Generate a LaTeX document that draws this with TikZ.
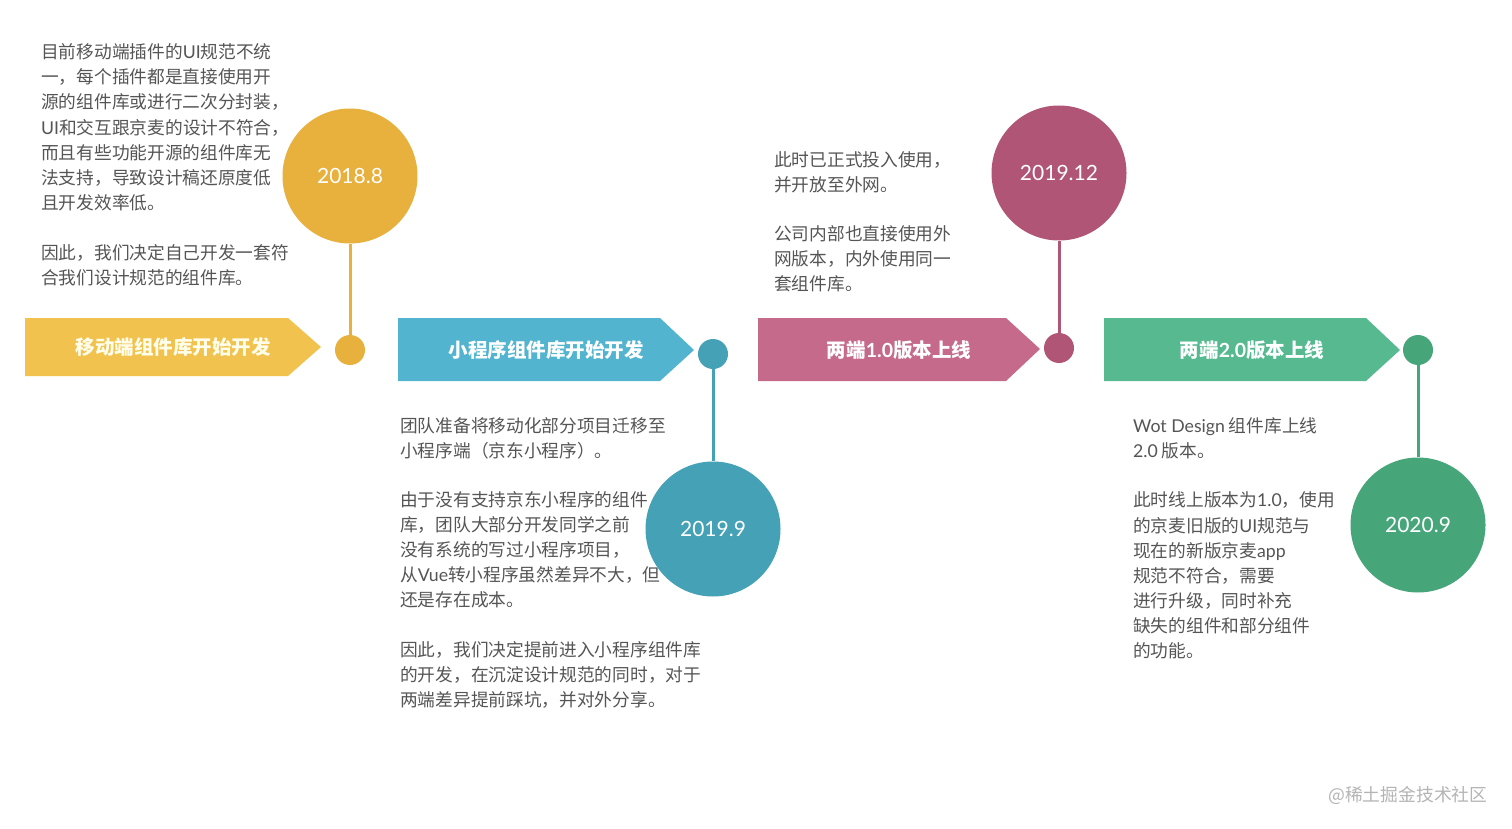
\documentclass[tikz,border=0pt]{standalone}
\usepackage{fontspec}
\setmainfont{Noto Sans CJK SC}
\newfontfamily\lato{Lato}
\definecolor{txt}{HTML}{555555}
\definecolor{yband}{HTML}{F2C24F}
\definecolor{ydk}{HTML}{E8B03C}
\definecolor{bband}{HTML}{53B4CF}
\definecolor{bdk}{HTML}{45A1B6}
\definecolor{pband}{HTML}{C56A8A}
\definecolor{pdk}{HTML}{B05576}
\definecolor{gband}{HTML}{56B990}
\definecolor{gdk}{HTML}{46A67A}
\definecolor{wm}{HTML}{B4B4B4}
\begin{document}
\begin{tikzpicture}[x=1pt,y=-1pt,
  body/.style={anchor=base west, inner sep=0, text=txt, font=\fontsize{17.7}{20}\selectfont},
  bandtext/.style={inner sep=0, text=white, font=\fontsize{19.5}{22}\selectfont\bfseries},
  big/.style={circle, minimum size=135, inner sep=0, text=white, font=\lato\fontsize{21}{24}\selectfont},
  dotnode/.style={circle, minimum size=30, inner sep=0},
  conn/.style={line width=3pt}]
\useasboundingbox[fill=white] (0,0) rectangle (1512,829);

% banners
\fill[yband] (25,318) -- (288,318) -- (321,347) -- (288,376) -- (25,376) -- cycle;
\fill[bband] (398,318) -- (660,318) -- (694,350) -- (660,381) -- (398,381) -- cycle;
\fill[pband] (758,318) -- (1006,318) -- (1040,349) -- (1006,381) -- (758,381) -- cycle;
\fill[gband] (1104,318) -- (1366,318) -- (1400,350) -- (1366,381) -- (1104,381) -- cycle;
\node[bandtext, text=white!92!yellow] (bt1) at (173,347) {移动端组件库开始开发};
\node[bandtext] (bt2) at (546,350) {小程序组件库开始开发};
\node[bandtext] (bt3) at (899,350) {两端{\lato\bfseries 1.0}版本上线};
\node[bandtext] (bt4) at (1252,350) {两端{\lato\bfseries 2.0}版本上线};

% text blocks (baseline = centre + 6.6)
\foreach \y/\t in {52/目前移动端插件的{\lato UI}规范不统,
  77/一，每个插件都是直接使用开,
  102/源的组件库或进行二次分封装，,
  128/{\lato UI}和交互跟京麦的设计不符合，,
  153/而且有些功能开源的组件库无,
  178/法支持，导致设计稿还原度低,
  203/且开发效率低。,
  253/因此，我们决定自己开发一套符,
  278/合我们设计规范的组件库。}
  \node[body] (ta\y) at (41,\y+6.6) {\t};

\foreach \y/\t in {426/团队准备将移动化部分项目迁移至,
  451/小程序端（京东小程序）。,
  500/由于没有支持京东小程序的组件,
  525/库，团队大部分开发同学之前,
  550/没有系统的写过小程序项目，,
  575/从{\lato Vue}转小程序虽然差异不大，但,
  600/还是存在成本。,
  650/因此，我们决定提前进入小程序组件库,
  675/的开发，在沉淀设计规范的同时，对于,
  700/两端差异提前踩坑，并对外分享。}
  \node[body] (tb\y) at (400,\y+6.6) {\t};

\foreach \y/\t in {160/此时已正式投入使用，,
  185/并开放至外网。,
  234/公司内部也直接使用外,
  259/网版本，内外使用同一,
  284/套组件库。}
  \node[body] (tc\y) at (774,\y+6.6) {\t};

\foreach \y/\t in {426/{\lato Wot Design} 组件库上线,
  451/{\lato 2.0} 版本。,
  500/此时线上版本为{\lato 1.0}，使用,
  526/的京麦旧版的{\lato UI}规范与,
  551/现在的新版京麦{\lato app},
  576/规范不符合，需要,
  601/进行升级，同时补充,
  626/缺失的组件和部分组件,
  651/的功能。}
  \node[body] (td\y) at (1133,\y+6.6) {\t};

% dots and circles
\node[dotnode, fill=ydk] (d1) at (350,350) {};
\node[dotnode, fill=bdk] (d2) at (713,354) {};
\node[dotnode, fill=pdk] (d3) at (1059,348) {};
\node[dotnode, fill=gdk] (d4) at (1418,350) {};
\node[big, fill=ydk] (c1) at (350,176) {2018.8};
\node[big, fill=bdk] (c2) at (713,529) {2019.9};
\node[big, fill=pdk] (c3) at (1059,173) {2019.12};
\node[big, fill=gdk] (c4) at (1418,525) {2020.9};
\draw[conn, ydk] (d1) -- (c1);
\draw[conn, bdk] (d2) -- (c2);
\draw[conn, pdk] (d3) -- (c3);
\draw[conn, gdk] (d4) -- (c4);

% watermark
\node[anchor=base west, inner sep=0, text=wm, font=\fontsize{17.8}{20}\selectfont] (wmk) at (1328,801) {@稀土掘金技术社区};
\end{tikzpicture}
\end{document}
